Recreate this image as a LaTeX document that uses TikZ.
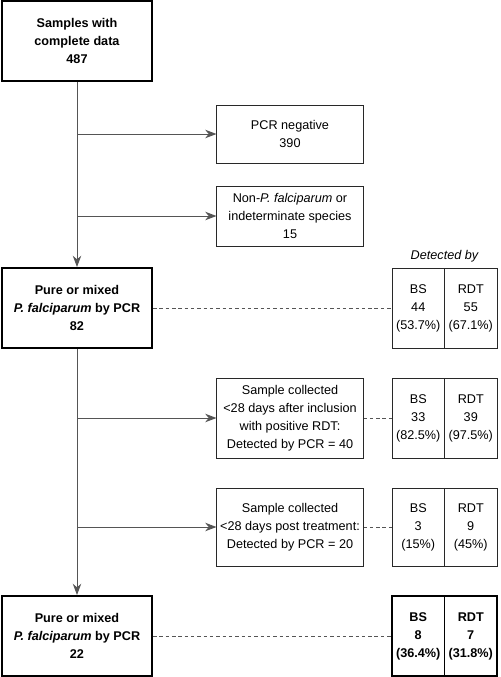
\documentclass[tikz,border=0pt]{standalone}
\usepackage{fontspec}
\setmainfont{Liberation Sans}
\usepackage{tikz}
\usetikzlibrary{arrows.meta, positioning}
\definecolor{linegray}{RGB}{85, 85, 85}
\definecolor{boxdark}{RGB}{40, 40, 40}

\begin{document}
\begin{tikzpicture}[x=0.025cm, y=-0.025cm,
  every node/.style={font=\fontsize{9}{12.8}\selectfont, text=black},
  flowbox/.style={draw=boxdark, line width=0.7pt, fill=white, align=center, inner sep=1pt, minimum width=3.65cm},
  mainbox/.style={draw=black, line width=1.4pt, fill=white, align=center, inner sep=1pt, minimum width=3.75cm, minimum height=2cm, font=\fontsize{9}{12.8}\selectfont\bfseries},
  cell/.style={draw=boxdark, line width=0.7pt, align=center, inner sep=1pt, minimum width=1.3125cm, minimum height=2cm},
  boldcell/.style={cell, draw=black, line width=1.4pt, font=\fontsize{9}{12.8}\selectfont\bfseries},
  flowarrow/.style={draw=linegray, line width=0.7pt, -{Stealth[length=8pt, width=6pt, inset=2.5pt]}},
  dashlink/.style={draw=linegray, line width=0.6pt, dash pattern=on 2.5pt off 2pt}]
  \useasboundingbox (0,0) rectangle (500,677);

  % Main column
  \node[mainbox] (samples) at (77, 41) {Samples with\\complete data\\487};
  \node[mainbox] (pfall) at (77, 308) {Pure or mixed\\\textit{P. falciparum} by PCR\\82};
  \node[mainbox] (pfleft) at (77, 636) {Pure or mixed\\\textit{P. falciparum} by PCR\\22};

  % Exclusions and subgroups
  \node[flowbox, minimum height=1.45cm] (negative) at (290, 134) {PCR negative\\390};
  \node[flowbox, minimum height=1.5cm] (nonpf) at (290, 216) {Non-\textit{P. falciparum} or\\indeterminate species\\15};
  \node[flowbox, minimum height=2cm] (afterincl) at (290, 418) {Sample collected\\<28 days after inclusion\\with positive RDT:\\Detected by PCR = 40};
  \node[flowbox, minimum height=1.95cm] (aftertreat) at (290, 527) {Sample collected\\<28 days post treatment:\\Detected by PCR = 20};

  % Detection tables
  \node[font=\fontsize{9}{12.8}\selectfont\itshape] (detected) at (444.5, 256) {Detected by};
  \node[cell] (bsall) at (418.25, 308) {BS\\44\\(53.7\%)};
  \node[cell] (rdtall) at (470.75, 308) {RDT\\55\\(67.1\%)};
  \node[cell] (bsincl) at (418.25, 418) {BS\\33\\(82.5\%)};
  \node[cell] (rdtincl) at (470.75, 418) {RDT\\39\\(97.5\%)};
  \node[cell, minimum height=1.95cm] (bstreat) at (418.25, 527) {BS\\3\\(15\%)};
  \node[cell, minimum height=1.95cm] (rdttreat) at (470.75, 527) {RDT\\9\\(45\%)};
  \node[boldcell] (bsleft) at (418.25, 636) {BS\\8\\(36.4\%)};
  \node[boldcell] (rdtleft) at (470.75, 636) {RDT\\7\\(31.8\%)};

  % Connectors
  \draw[flowarrow] (samples.south) -- (pfall.north);
  \draw[flowarrow] (pfall.south) -- (pfleft.north);
  \draw[flowarrow] (negative.west -| samples.south) -- (negative.west);
  \draw[flowarrow] (nonpf.west -| samples.south) -- (nonpf.west);
  \draw[flowarrow] (afterincl.west -| pfall.south) -- (afterincl.west);
  \draw[flowarrow] (aftertreat.west -| pfall.south) -- (aftertreat.west);

  \draw[dashlink] (pfall.east) -- (bsall.west);
  \draw[dashlink] (afterincl.east) -- (bsincl.west);
  \draw[dashlink] (aftertreat.east) -- (bstreat.west);
  \draw[dashlink] (pfleft.east) -- (bsleft.west);
\end{tikzpicture}
\end{document}
